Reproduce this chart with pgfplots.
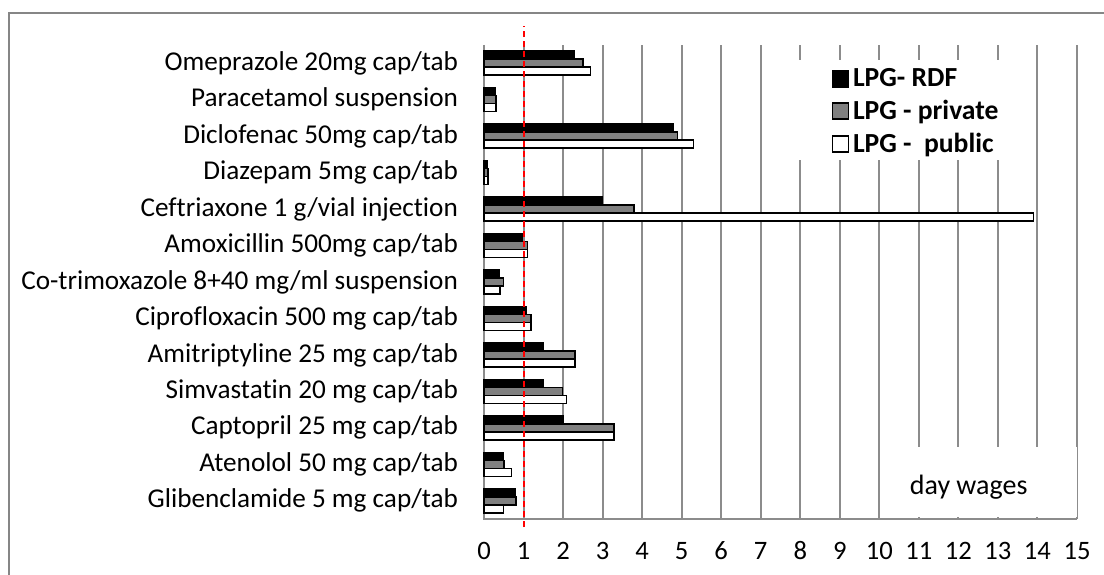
\documentclass[border=0pt]{standalone}
\usepackage{fontspec}
\setmainfont{Carlito}[Ligatures=NoCommon]
\usepackage{pgfplots}
\usepackage{pgfplotstable}
\pgfplotsset{compat=1.18}
\definecolor{gridgray}{RGB}{140,140,140}
\definecolor{bordergray}{RGB}{134,134,134}
\definecolor{privgray}{RGB}{128,128,128}
\definecolor{refred}{RGB}{255,0,0}
\pgfplotstableread{
idx rdf priv pub
0 0.78 0.81 0.49
1 0.48 0.50 0.70
2 2.00 3.29 3.29
3 1.49 1.99 2.09
4 1.49 2.30 2.30
5 1.08 1.19 1.19
6 0.38 0.49 0.40
7 0.98 1.10 1.10
8 3.00 3.80 13.90
9 0.07 0.10 0.10
10 4.79 4.89 5.30
11 0.28 0.30 0.30
12 2.29 2.50 2.70
}\datatable
\pgfplotsset{mylegend/.style={legend image code/.code={\draw[##1,line width=0.75pt] (-1pt,-4pt) rectangle (7pt,4pt);}}}
\begin{document}
\begin{tikzpicture}[x=1pt,y=1pt]
\useasboundingbox (0,0) rectangle (552,287);
\clip (0,0) rectangle (552,287);
\fill[white] (0,0) rectangle (552,287);
\draw[bordergray, line width=0.75pt] (4.5,-5) -- (4.5,280.5) -- (560,280.5);
\begin{axis}[
  at={(242pt,27.5pt)}, anchor=south west, scale only axis,
  width=296.5pt, height=237pt,
  xmin=0, xmax=15, ymin=-0.5, ymax=12.5,
  clip=false,
  xtick={0,...,15}, ytick={0,...,12},
  yticklabels={Glibenclamide 5 mg cap/tab, Atenolol 50 mg cap/tab, Captopril 25 mg cap/tab, Simvastatin 20 mg cap/tab, Amitriptyline 25 mg cap/tab, Ciprofloxacin 500 mg cap/tab, Co-trimoxazole 8+40 mg/ml suspension, Amoxicillin 500mg cap/tab, Ceftriaxone 1 g/vial injection, Diazepam 5mg cap/tab, Diclofenac 50mg cap/tab, Paracetamol suspension, Omeprazole 20mg cap/tab},
  axis line style={draw=none},
  major tick length=0pt,
  xmajorgrids, grid style={gridgray, line width=1pt},
  /pgf/number format/assume math mode=true,
  xticklabel style={font=\fontsize{13.3}{15}\selectfont, anchor=center, yshift=-16pt},
  yticklabel style={font=\fontsize{13.6}{15}\selectfont, anchor=east, xshift=-9.5pt},
  reverse legend,
  legend cell align=left,
  legend style={at={(axis cs:8.78,11.975)}, anchor=north west, draw=none, fill=none, inner sep=0pt, row sep=1.2pt, font=\bfseries\fontsize{13.8}{16}\selectfont},
]
\draw[gridgray, line width=1pt] (axis cs:0,12.5) -- (axis cs:0,-0.5) -- (axis cs:15,-0.5);
\addplot[xbar, bar width=4pt, bar shift=-4pt, fill=white, draw=black, line width=0.75pt, mylegend] table[x=pub, y=idx]{\datatable};
\addplot[xbar, bar width=4pt, bar shift=0pt, fill=privgray, draw=black, line width=0.75pt, mylegend] table[x=priv, y=idx]{\datatable};
\addplot[xbar, bar width=4pt, bar shift=4pt, fill=black, draw=black, line width=0.75pt, mylegend] table[x=rdf, y=idx]{\datatable};
\legend{LPG -~ public, LPG - private, LPG- RDF}
\fill[white] (axis cs:7.36,12.09) rectangle (axis cs:13.36,9.35);
\fill[white] (axis cs:10.03,1.47) rectangle (axis cs:15,-0.445);
\node[font=\fontsize{14}{16}\selectfont] at (axis cs:12.26,0.378) {day wages};
\addplot[draw=refred, color=refred, dash pattern=on 3pt off 2pt, line width=1pt, forget plot, mark=none] coordinates {(1,-0.72) (1,13.02)};
\end{axis}
\end{tikzpicture}
\end{document}
